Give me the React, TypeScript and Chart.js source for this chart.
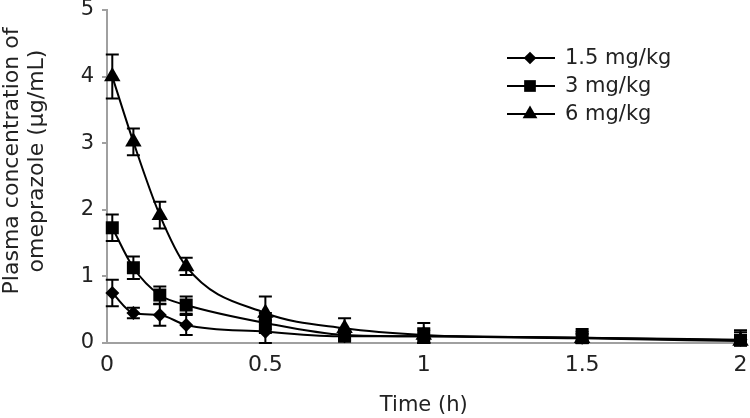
import React, { useEffect, useRef } from "react";
import { Chart, registerables } from "chart.js";

Chart.register(...registerables);

// Time points (h)
const times = [0.0167, 0.0833, 0.1667, 0.25, 0.5, 0.75, 1, 1.5, 2];

// Series labels
const seriesLabels = ["1.5 mg/kg", "3 mg/kg", "6 mg/kg"];
const seriesStyles = ["rectRot", "rect", "triangle"];

// Plasma concentrations (µg/mL)
const lowDose = [0.75, 0.45, 0.42, 0.27, 0.17, 0.1, 0.1, 0.08, 0.05];
const midDose = [1.73, 1.13, 0.72, 0.57, 0.3, 0.12, 0.1, 0.08, 0.04];
const highDose = [4.0, 3.02, 1.92, 1.15, 0.45, 0.22, 0.12, 0.07, 0.03];

// Error (SD)
const lowErr = [0.2, 0.08, 0.16, 0.15, 0.17, 0.08, 0.1, 0.06, 0.06];
const midErr = [0.2, 0.17, 0.13, 0.13, 0.15, 0.08, 0.12, 0.1, 0.12];
const highErr = [0.33, 0.2, 0.2, 0.13, 0.25, 0.15, 0.18, 0.14, 0.16];

// Axis ticks and titles
const xTicks = [0, 0.5, 1, 1.5, 2];
const yTicks = [0, 1, 2, 3, 4, 5];
const xTitle = "Time (h)";
const yTitleLines = ["Plasma concentration of", "omeprazole (μg/mL)"];

const FONT = "'DejaVu Sans', 'Liberation Sans', sans-serif";
const TEXT = "#222";
const AXIS = "#a0a0a0";

const seriesValues = [lowDose, midDose, highDose];
const seriesErrors = [lowErr, midErr, highErr];
const radii = [7, 9.2, 9.5];

function drawMarker(ctx: CanvasRenderingContext2D, style: string, x: number, y: number, r: number) {
  ctx.beginPath();
  if (style === "rectRot") {
    ctx.moveTo(x, y - r);
    ctx.lineTo(x + r, y);
    ctx.lineTo(x, y + r);
    ctx.lineTo(x - r, y);
  } else if (style === "rect") {
    const s = r * Math.SQRT1_2;
    ctx.rect(x - s, y - s, 2 * s, 2 * s);
  } else {
    const h = r * 1.5;
    const w = r * Math.sqrt(3);
    ctx.moveTo(x, y - r);
    ctx.lineTo(x + w / 2, y - r + h);
    ctx.lineTo(x - w / 2, y - r + h);
  }
  ctx.closePath();
  ctx.fill();
}

const errorBarPlugin = {
  id: "errorBars",
  afterDatasetsDraw(chart: any) {
    const { ctx, scales } = chart;
    const xs = scales.x;
    const ys = scales.y;
    ctx.save();
    ctx.strokeStyle = "#000";
    ctx.lineWidth = 2;
    seriesValues.forEach((vals, si) => {
      const errs = seriesErrors[si];
      vals.forEach((v, i) => {
        const px = xs.getPixelForValue(times[i]);
        const top = ys.getPixelForValue(v + errs[i]);
        const bot = ys.getPixelForValue(Math.max(v - errs[i], 0));
        const cap = 6.5;
        ctx.beginPath();
        ctx.moveTo(px, top);
        ctx.lineTo(px, bot);
        ctx.moveTo(px - cap, top);
        ctx.lineTo(px + cap, top);
        ctx.moveTo(px - cap, bot);
        ctx.lineTo(px + cap, bot);
        ctx.stroke();
      });
    });
    ctx.restore();
  },
};

const yTitlePlugin = {
  id: "yTitle",
  afterDraw(chart: any) {
    const { ctx } = chart;
    const cy = 161;
    const xs = [12, 37];
    ctx.save();
    ctx.fillStyle = TEXT;
    ctx.font = `22px ${FONT}`;
    ctx.textAlign = "center";
    ctx.textBaseline = "middle";
    yTitleLines.forEach((line, i) => {
      ctx.save();
      ctx.translate(xs[i], cy);
      ctx.rotate(-Math.PI / 2);
      ctx.fillText(line, 0, 0);
      ctx.restore();
    });
    ctx.restore();
  },
};

const legendPlugin = {
  id: "customLegend",
  afterDraw(chart: any) {
    const { ctx } = chart;
    const rowsY = [58, 86, 114];
    const x0 = 507;
    const x1 = 555;
    const xm = (x0 + x1) / 2 - 1;
    const tx = 565;
    ctx.save();
    seriesLabels.forEach((label, i) => {
      const y = rowsY[i];
      ctx.strokeStyle = "#000";
      ctx.lineWidth = 2;
      ctx.beginPath();
      ctx.moveTo(x0, y);
      ctx.lineTo(x1, y);
      ctx.stroke();
      ctx.fillStyle = "#000";
      drawMarker(ctx, seriesStyles[i], xm, y, radii[i] * 0.9);
      ctx.fillStyle = TEXT;
      ctx.font = `21px ${FONT}`;
      ctx.textBaseline = "middle";
      ctx.textAlign = "left";
      ctx.fillText(label, tx, y + 1);
    });
    ctx.restore();
  },
};

export default function App() {
  const canvasRef = useRef<HTMLCanvasElement | null>(null);

  useEffect(() => {
    if (!canvasRef.current) return;
    const datasets = seriesLabels.map((label, si) => ({
      label,
      data: times.map((t, i) => ({ x: t, y: seriesValues[si][i] })),
      borderColor: "#000",
      backgroundColor: "#000",
      borderWidth: 2,
      pointStyle: seriesStyles[si],
      pointRadius: radii[si],
      pointBackgroundColor: "#000",
      pointBorderColor: "#000",
      pointBorderWidth: 0,
      cubicInterpolationMode: "monotone",
      fill: false,
      clip: false,
    }));

    const chart = new Chart(canvasRef.current, {
      type: "line",
      data: { datasets },
      options: {
        animation: false,
        responsive: false,
        layout: { padding: { top: 10, right: 9, left: 0, bottom: 0 } },
        plugins: {
          legend: { display: false },
          tooltip: { enabled: false },
        },
        scales: {
          x: {
            type: "linear",
            min: 0,
            max: 2,
            afterBuildTicks: (scale: any) => {
              scale.ticks = xTicks.map((v) => ({ value: v }));
            },
            afterFit: (scale: any) => {
              scale.height = 75;
              scale.paddingLeft = 0;
              scale.paddingRight = 0;
            },
            ticks: {
              color: TEXT,
              font: { family: FONT, size: 22 },
              padding: 9,
              maxRotation: 0,
              callback: (v: any) => String(v),
            },
            grid: { drawOnChartArea: false, drawTicks: false },
            border: { display: true, color: AXIS, width: 2 },
            title: {
              display: true,
              text: xTitle,
              color: TEXT,
              font: { family: FONT, size: 21, lineHeight: 1.2 },
              padding: { top: 0, bottom: 0 },
            },
          },
          y: {
            type: "linear",
            min: 0,
            max: 5,
            afterBuildTicks: (scale: any) => {
              scale.ticks = yTicks.map((v) => ({ value: v }));
            },
            afterFit: (scale: any) => {
              scale.width = 107;
              scale.paddingTop = 0;
              scale.paddingBottom = 0;
            },
            ticks: {
              color: TEXT,
              font: { family: FONT, size: 21 },
              padding: 8,
            },
            grid: {
              drawOnChartArea: false,
              drawTicks: true,
              tickLength: 5,
              color: AXIS,
              lineWidth: 2,
            },
            border: { display: true, color: AXIS, width: 2 },
          },
        },
      },
      plugins: [errorBarPlugin, yTitlePlugin, legendPlugin],
    } as any);

    return () => chart.destroy();
  }, []);

  return (
    <div style={{ position: "fixed", left: 0, top: 0, width: 750, height: 418, background: "#fff" }}>
      <canvas ref={canvasRef} width={750} height={418} style={{ display: "block" }} />
    </div>
  );
}
